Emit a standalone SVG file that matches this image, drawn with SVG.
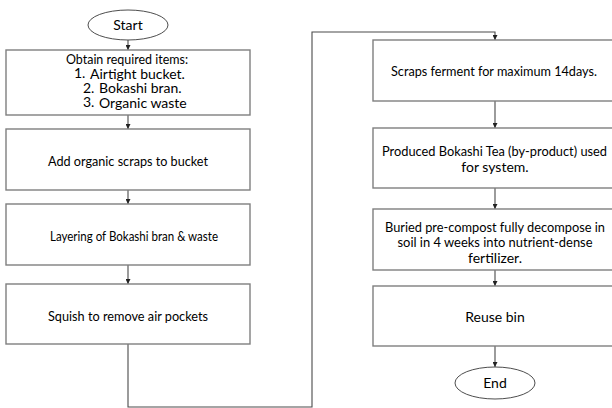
<svg xmlns="http://www.w3.org/2000/svg" width="612" height="408" viewBox="0 0 612 408">
<defs>
<style>
.box{fill:#fff;stroke:#7f7f7f;stroke-width:1.4}
.term{fill:#fff;stroke:#4d4d4d;stroke-width:1}
.t{font-family:Lato,"Liberation Sans",Arial,sans-serif;font-size:14px;fill:#000;text-anchor:middle;dominant-baseline:central}
.s{text-anchor:start}
.c{fill:none;stroke:#4a4a4a;stroke-width:1.1}
</style>
<marker id="ah" viewBox="0 0 6 6" refX="6" refY="3" markerWidth="5" markerHeight="5" orient="auto" markerUnits="userSpaceOnUse">
<path d="M0,0 L6,3 L0,6 z" fill="#222"/>
</marker>
</defs>
<rect width="612" height="408" fill="#fff"/>
<g id="connectors">
<path class="c" d="M128,40 V50" marker-end="url(#ah)"/>
<path class="c" d="M128,115 V129" marker-end="url(#ah)"/>
<path class="c" d="M128,190 V204" marker-end="url(#ah)"/>
<path class="c" d="M128,265 V284" marker-end="url(#ah)"/>
<path class="c" d="M128,344 V407 H312 V32 H495 V40" marker-end="url(#ah)"/>
<path class="c" d="M495,101 V128" marker-end="url(#ah)"/>
<path class="c" d="M495,188 V209" marker-end="url(#ah)"/>
<path class="c" d="M495,270 V286" marker-end="url(#ah)"/>
<path class="c" d="M495,346 V367" marker-end="url(#ah)"/>
</g>
<g id="start">
<ellipse class="term" cx="128" cy="25" rx="40" ry="15"/>
<text class="t" x="128" y="24.5">Start</text>
</g>
<g id="obtain">
<rect class="box" x="6" y="50" width="244" height="65"/>
<text class="t" x="127" y="58" textLength="122" lengthAdjust="spacingAndGlyphs">Obtain required items:</text>
<text class="t s" x="74" y="72.5">1.<tspan x="90">Airtight bucket.</tspan></text>
<text class="t s" x="83" y="87">2.<tspan x="99">Bokashi bran.</tspan></text>
<text class="t s" x="83" y="101.5">3.<tspan x="99">Organic waste</tspan></text>
</g>
<g id="add">
<rect class="box" x="6" y="129" width="244" height="61"/>
<text class="t" x="128" y="160" textLength="160" lengthAdjust="spacingAndGlyphs">Add organic scraps to bucket</text>
</g>
<g id="layer">
<rect class="box" x="6" y="204" width="244" height="61"/>
<text class="t" x="134" y="235" textLength="168" lengthAdjust="spacingAndGlyphs">Layering of Bokashi bran &amp; waste</text>
</g>
<g id="squish">
<rect class="box" x="6" y="284" width="244" height="60"/>
<text class="t" x="128" y="315" textLength="160" lengthAdjust="spacingAndGlyphs">Squish to remove air pockets</text>
</g>
<g id="ferment">
<rect class="box" x="373" y="40" width="244" height="61"/>
<text class="t" x="494" y="70" textLength="206" lengthAdjust="spacingAndGlyphs">Scraps ferment for maximum 14days.</text>
</g>
<g id="tea">
<rect class="box" x="373" y="128" width="244" height="60"/>
<text class="t" x="494.5" y="150" textLength="225" lengthAdjust="spacingAndGlyphs">Produced Bokashi Tea (by-product) used</text>
<text class="t" x="495" y="166">for system.</text>
</g>
<g id="buried">
<rect class="box" x="373" y="209" width="244" height="61"/>
<text class="t" x="495" y="226" textLength="220" lengthAdjust="spacingAndGlyphs">Buried pre-compost fully decompose in</text>
<text class="t" x="495" y="241" textLength="195" lengthAdjust="spacingAndGlyphs">soil in 4 weeks into nutrient-dense</text>
<text class="t" x="495" y="257">fertilizer.</text>
</g>
<g id="reuse">
<rect class="box" x="373" y="286" width="244" height="60"/>
<text class="t" x="495" y="316">Reuse bin</text>
</g>
<g id="end">
<ellipse class="term" cx="495" cy="383" rx="40" ry="16"/>
<text class="t" x="495" y="382.5">End</text>
</g>
</svg>
